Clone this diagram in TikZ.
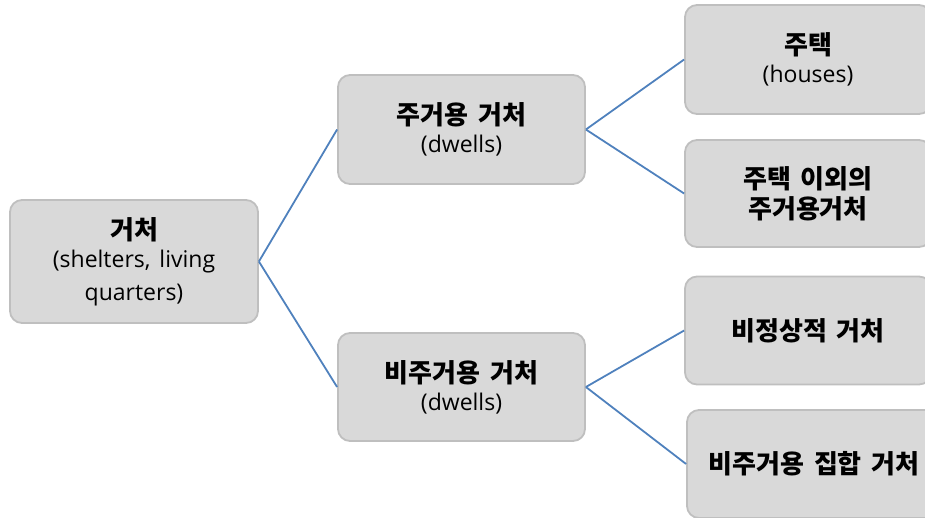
\documentclass[tikz,border=0pt]{standalone}
\usepackage{fontspec}
\setmainfont{Open Sans}[WordSpace=1.5]
\newfontfamily\kr{Noto Sans CJK KR}[WordSpace=1.6]
\definecolor{boxfill}{HTML}{D9D9D9}
\definecolor{boxline}{HTML}{BFBFBF}
\definecolor{linkblue}{HTML}{4F81BD}
\newcommand{\ttl}[1]{{\kr\bfseries\fontsize{26}{28}\selectfont #1}}
\begin{document}
\begin{tikzpicture}[x=1pt,y=-1pt,
  box/.style={draw=boxline, fill=boxfill, line width=1.8pt, rounded corners=12pt,
    align=center, inner sep=0pt, font=\fontsize{23}{28}\selectfont},
  link/.style={draw=linkblue, line width=1.8pt}]
\useasboundingbox (0,0) rectangle (925,517);
\begin{scope}
\clip (0,0) rectangle (925,517);
% first level
\node[box, minimum width=248pt, minimum height=123pt] (root) at (134,261.5)
  {\ttl{거처}\\(shelters, living\\[5pt]quarters)};
% second level
\node[box, minimum width=247pt, minimum height=109pt] (dw) at (461.5,129.5)
  {\ttl{주거용 거처}\\(dwells)};
\node[box, minimum width=247pt, minimum height=108pt] (ndw) at (461.5,387)
  {\ttl{비주거용 거처}\\(dwells)};
% third level
\node[box, minimum width=246pt, minimum height=109pt] (house) at (808,59.5)
  {\ttl{주택}\\(houses)};
\node[box, minimum width=246pt, minimum height=107pt] (other) at (808,193.5)
  {\ttl{주택 이외의}\\[2pt]\ttl{주거용거처}};
\node[box, minimum width=246pt, minimum height=108pt] (irreg) at (808,330.5)
  {\ttl{비정상적 거처}};
\node[box, minimum width=254pt, minimum height=108pt] (coll) at (814,464)
  {\ttl{비주거용 집합 거처}};
% connectors
\draw[link] (root.east) -- (dw.west);
\draw[link] (root.east) -- (ndw.west);
\draw[link] (dw.east) -- (house.west);
\draw[link] (dw.east) -- (other.west);
\draw[link] (ndw.east) -- (irreg.west);
\draw[link] (ndw.east) -- (coll.west);
\end{scope}
\end{tikzpicture}
\end{document}
